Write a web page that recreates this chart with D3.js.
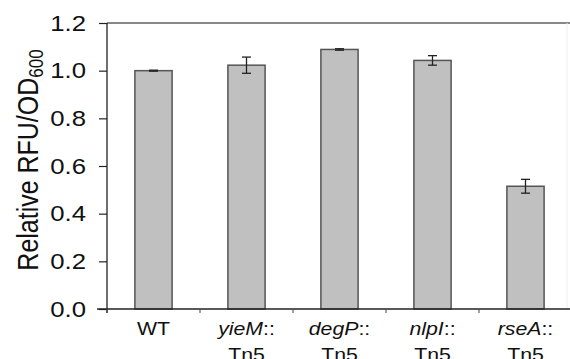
<!DOCTYPE html>
<html>
<head>
<meta charset="utf-8">
<script src="https://cdn.jsdelivr.net/npm/d3@7"></script>
<style>
  body { margin: 0; background: #fff; }
  svg { display: block; font-family: "Liberation Sans", Arial, sans-serif; }
</style>
</head>
<body>
<svg id="chart"></svg>
<script>
const strains = ['WT', 'yieM', 'degP', 'nlpI', 'rseA'];
const strainSuffix = ['', '::', '::', '::', '::'];
const strainLine2 = ['', 'Tn5', 'Tn5', 'Tn5', 'Tn5'];
const values = [1.0, 1.023, 1.089, 1.043, 0.515];
const errors = [0.002, 0.034, 0.003, 0.02, 0.029];
const yTicks = [0.0, 0.2, 0.4, 0.6, 0.8, 1.0, 1.2];

let width = 570;
let height = 359;
// the source text is a little wider than it is tall
const stretch = 1.17;

let svg = d3.select('#chart')
    .attr('width', width)
    .attr('height', height);

const plotLeft = 107, plotRight = 572, plotTop = 23, plotBottom = 309;

const xScale = d3.scaleBand()
    .domain(strains)
    .range([plotLeft, plotRight])
    .paddingInner(0.6)
    .paddingOuter(0.3);

const yScale = d3.scaleLinear()
    .domain([0, 1.2])
    .range([plotBottom, plotTop]);

// frame: grey top line, faint right edge
svg.append('line')
    .attr('x1', plotLeft).attr('x2', width)
    .attr('y1', yScale(1.2)).attr('y2', yScale(1.2))
    .attr('stroke', '#888').attr('stroke-width', 2);
svg.append('line')
    .attr('x1', 567).attr('x2', 567)
    .attr('y1', yScale(1.2)).attr('y2', plotBottom)
    .attr('stroke', '#eee').attr('stroke-width', 1);

// bars
svg.selectAll('rect.bar')
    .data(values)
    .enter()
    .append('rect')
    .attr('class', 'bar')
    .attr('x', (d, i) => xScale(strains[i]))
    .attr('width', xScale.bandwidth())
    .attr('y', d => yScale(d))
    .attr('height', d => yScale(0) - yScale(d))
    .attr('fill', '#c0c0c0')
    .attr('stroke', '#555')
    .attr('stroke-width', 1.5);

// error bars
const err = svg.append('g').attr('stroke', '#222').attr('stroke-width', 1.3);
values.forEach((v, i) => {
    const cx = xScale(strains[i]) + xScale.bandwidth() / 2;
    const y1 = yScale(v + errors[i]);
    const y2 = yScale(v - errors[i]);
    err.append('line').attr('x1', cx).attr('x2', cx).attr('y1', y1).attr('y2', y2);
    err.append('line').attr('x1', cx - 4.5).attr('x2', cx + 4.5).attr('y1', y1).attr('y2', y1);
    err.append('line').attr('x1', cx - 4.5).attr('x2', cx + 4.5).attr('y1', y2).attr('y2', y2);
});

// y axis
const yAxis = d3.axisLeft(yScale)
    .tickValues(yTicks)
    .tickFormat(d3.format('.1f'))
    .tickSize(8)
    .tickSizeOuter(0)
    .tickPadding(13);

const gy = svg.append('g')
    .attr('transform', 'translate(' + plotLeft + ',0)')
    .call(yAxis);
gy.select('.domain').attr('stroke', '#222').attr('stroke-width', 1.3)
    .attr('d', 'M0,' + plotTop + 'V' + (plotBottom + 4));
gy.selectAll('.tick line').attr('stroke', '#222').attr('stroke-width', 1.2);
gy.selectAll('.tick text')
    .attr('x', 0)
    .attr('transform', 'translate(-21,0) scale(' + stretch + ',1)')
    .attr('font-size', 22)
    .attr('fill', '#111')
    .attr('font-family', '"Liberation Sans", Arial, sans-serif');

// x axis
svg.append('line')
    .attr('x1', 97).attr('x2', width)
    .attr('y1', plotBottom).attr('y2', plotBottom)
    .attr('stroke', '#222').attr('stroke-width', 1.3);

const step = xScale.step();
const boundaries = strains.map(s => xScale(s) - step * 0.3).concat([xScale(strains[4]) + xScale.bandwidth() + step * 0.3]);
svg.selectAll('line.xtick')
    .data(boundaries)
    .enter()
    .append('line')
    .attr('class', 'xtick')
    .attr('x1', d => d).attr('x2', d => d)
    .attr('y1', plotBottom).attr('y2', plotBottom + 4)
    .attr('stroke', '#444').attr('stroke-width', 1);

// x labels
const xl = svg.selectAll('text.xlabel')
    .data(strains)
    .enter()
    .append('text')
    .attr('class', 'xlabel')
    .attr('text-anchor', 'middle')
    .attr('font-size', 19)
    .attr('fill', '#111')
    .attr('transform', d => 'translate(' + (xScale(d) + xScale.bandwidth() / 2) + ',335) scale(1.12,1)');

xl.append('tspan')
    .attr('font-style', (d, i) => i === 0 ? 'normal' : 'italic')
    .text(d => d);
xl.append('tspan')
    .text((d, i) => strainSuffix[i]);

svg.selectAll('text.xlabel2')
    .data(strainLine2)
    .enter()
    .append('text')
    .attr('class', 'xlabel2')
    .attr('text-anchor', 'middle')
    .attr('font-size', 19)
    .attr('fill', '#111')
    .attr('transform', (d, i) => 'translate(' + (xScale(strains[i]) + xScale.bandwidth() / 2) + ',361) scale(1.12,1)')
    .text(d => d);

// y label
const yl = svg.append('text')
    .attr('transform', 'translate(38,160) scale(' + stretch + ',1) rotate(-90)')
    .attr('text-anchor', 'middle')
    .attr('font-size', 25)
    .attr('fill', '#111');
yl.append('tspan').text('Relative RFU/OD');
yl.append('tspan').attr('font-size', 17).attr('dy', 4).text('600');
</script>
</body>
</html>
